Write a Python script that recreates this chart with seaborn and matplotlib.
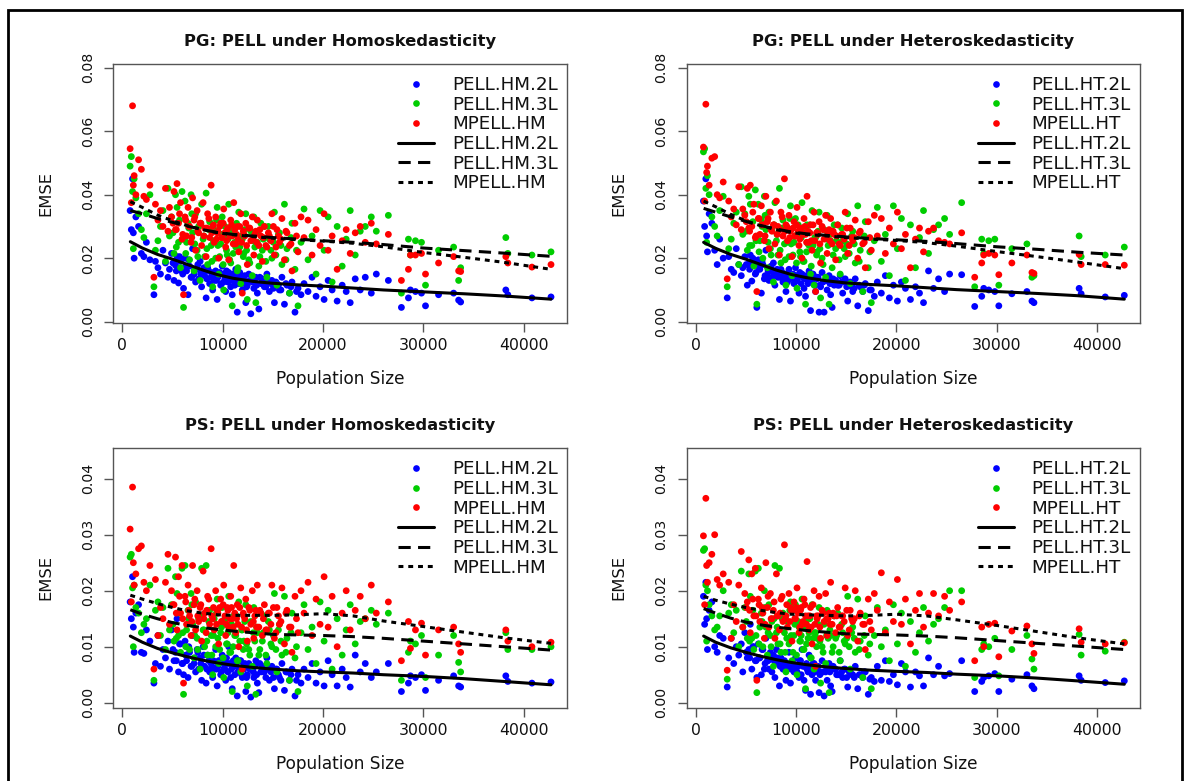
import numpy as np
import pandas as pd
import matplotlib
matplotlib.use("Agg")
import matplotlib.pyplot as plt
import seaborn as sns
from matplotlib.lines import Line2D
from matplotlib.patches import Rectangle

# EMSE values below are stored in units of 1e-4
SCALE = 1e-4

# Population size of each small area (shared by all estimators)
population = [
    780, 900, 1020, 1100, 1180, 1350, 1620, 1900, 2150, 2400, 2750, 3150, 3300,
    3550, 3800, 4050, 4300, 4550, 4700, 4900, 5150, 5300, 5450, 5600, 5800, 5950,
    6100, 6250, 6400, 6550, 6700, 6850, 7000, 7150, 7300, 7450, 7600, 7750, 7900, 8050, 8200, 8350, 8500, 8700, 8850, 9000,
    9150, 9300, 9450, 9600, 9800, 9950, 10100, 10300, 10450, 10600, 10800, 10950, 11100, 11300, 11450,
    11600, 11800, 11950, 12100, 12300, 12450, 12600, 12800, 12950, 13100, 13300, 13450, 13600, 13800, 13950,
    14150, 14400, 14650, 14900, 15150, 15400, 15650, 15900, 16150, 16400, 16650, 16900, 17200, 17500, 17800,
    18100, 18500, 18900, 19300, 19700, 20100, 20500, 20900, 21400, 21900, 22300, 22700, 23200, 23700, 24200, 24800, 25300,
    26500, 27800, 28500, 28700, 29200, 29800, 30200, 31500, 33000, 33500, 33700, 38200, 38400, 40800, 42700,
    5050, 5380, 5700, 6020, 6320, 6620, 6920, 7220, 7520, 7820, 8120, 8420, 8620, 8920, 9080, 9380,
    9520, 9700, 9880, 10050, 10220, 10380, 10520, 10700, 10880, 11050, 11200, 11380, 11520, 11700, 11880,
    12050, 12200, 12380, 12700, 13050,
    13200, 13380, 13700, 14050, 14300, 14550, 14800, 15050, 15300, 15550, 15800, 16300, 16800, 17350,
]

# ---- PG, homoskedastic ----
pg_hm_2l = [
    350, 290, 450, 280, 200, 330, 300, 215, 205, 250, 195, 85, 190,
    170, 150, 225, 185, 140, 165, 215, 130, 178, 205, 122, 190, 158,
    105, 200, 160, 85, 175, 140, 230, 150, 125, 165, 135, 190, 110, 155, 145, 75, 170, 120, 140, 100,
    130, 160, 70, 150, 115, 175, 125, 95, 140, 155, 110, 85, 135, 165, 30,
    120, 145, 100, 130, 60, 115, 150, 25, 125, 105, 140, 90, 40, 120, 135,
    110, 150, 95, 130, 60, 120, 100, 140, 55, 115, 90, 125, 30, 105, 85,
    120, 95, 140, 80, 110, 70, 130, 100, 65, 115, 95, 60, 135, 100, 140, 90, 150,
    130, 45, 75, 100, 95, 90, 50, 85, 90, 68, 62, 100, 85, 75, 78,
    185, 160, 205, 150, 175, 195, 140, 165, 180, 150, 170, 135, 160, 145, 155, 130,
    140, 155, 120, 150, 135, 160, 125, 145, 130, 150, 115, 140, 125, 155, 120,
    135, 145, 110, 130, 125,
    135, 115, 140, 125, 110, 130, 120, 105, 125, 115, 100, 120, 110, 95,
]
pg_hm_3l = [
    490, 520, 410, 230, 450, 390, 340, 290, 265, 340, 400, 110, 225,
    255, 300, 350, 190, 420, 270, 330, 215, 400, 360, 250, 170, 410,
    45, 380, 250, 310, 195, 400, 280, 160, 340, 225, 300, 130, 370, 260, 205, 405, 180, 315, 240, 110,
    290, 200, 360, 150, 245, 330, 100, 275, 210, 370, 185, 50, 300, 235, 160,
    345, 120, 260, 215, 340, 70, 195, 285, 145, 330, 60, 250, 175, 310, 225,
    300, 140, 260, 200, 345, 115, 280, 180, 370, 230, 90, 310, 165, 50, 250,
    355, 195, 270, 150, 350, 225, 330, 125, 300, 175, 260, 350, 210, 285, 300, 330, 285,
    335, 90, 260, 210, 255, 250, 115, 225, 235, 130, 170, 265, 215, 210, 220,
    280, 235, 320, 260, 215, 295, 340, 245, 205, 310, 270, 230, 290, 190, 255, 320,
    240, 205, 275, 180, 300, 225, 260, 195, 285, 215, 250, 310, 170, 235, 270,
    205, 290, 225, 185, 255,
    235, 280, 205, 260, 190, 300, 225, 250, 210, 275, 240, 195, 265, 225,
]
pg_mpell_hm = [
    545, 375, 680, 430, 460, 400, 510, 480, 395, 385, 430, 140, 370,
    320, 350, 300, 420, 285, 360, 330, 410, 290, 435, 310, 375, 260,
    85, 330, 270, 360, 300, 250, 390, 320, 225, 350, 280, 310, 240, 375, 295, 205, 340, 265, 430, 300,
    250, 330, 280, 200, 310, 265, 355, 235, 290, 195, 320, 270, 375, 245, 300,
    220, 340, 90, 275, 310, 180, 295, 255, 330, 210, 285, 320, 240, 270, 190,
    300, 235, 270, 340, 210, 290, 250, 325, 195, 280, 240, 160, 310, 220, 330,
    265, 320, 210, 290, 240, 340, 225, 270, 165, 255, 290, 215, 280, 300, 250, 310, 245,
    275, 130, 165, 210, 210, 215, 150, 185, 205, 160, 158, 205, 185, 172, 180,
    310, 290, 340, 275, 320, 300, 265, 330, 285, 310, 270, 295, 325, 280, 305, 260,
    285, 300, 265, 310, 280, 255, 295, 270, 305, 245, 290, 275, 260, 300, 250,
    285, 270, 240, 295, 265,
    275, 250, 290, 265, 240, 280, 255, 300, 235, 270, 260, 285, 245, 270,
]

# ---- PG, heteroskedastic ----
pg_ht_2l = [
    380, 300, 450, 270, 220, 340, 310, 225, 180, 260, 200, 75, 205,
    165, 155, 230, 180, 145, 170, 205, 115, 182, 210, 128, 185, 150,
    45, 195, 165, 90, 180, 135, 225, 145, 130, 160, 140, 185, 115, 150, 140, 70, 165, 125, 135, 95,
    125, 165, 65, 145, 120, 170, 130, 90, 145, 150, 105, 80, 140, 160, 35,
    125, 140, 95, 135, 30, 110, 155, 30, 130, 100, 145, 85, 45, 115, 130,
    115, 145, 90, 135, 65, 125, 95, 135, 50, 110, 95, 120, 35, 100, 80,
    125, 90, 145, 75, 115, 65, 125, 105, 70, 110, 90, 60, 160, 105, 135, 95, 150,
    148, 48, 80, 105, 100, 95, 50, 88, 95, 65, 60, 105, 88, 78, 83,
    180, 165, 200, 155, 170, 190, 145, 160, 175, 155, 165, 140, 155, 150, 150, 135,
    145, 150, 125, 145, 140, 155, 120, 140, 135, 145, 120, 135, 130, 150, 115,
    140, 140, 115, 125, 130,
    130, 120, 135, 120, 115, 125, 125, 110, 120, 110, 105, 115, 115, 100,
]
pg_ht_3l = [
    535, 545, 420, 250, 460, 400, 330, 300, 270, 350, 395, 110, 230,
    260, 310, 345, 180, 425, 275, 340, 225, 395, 370, 240, 175, 415,
    55, 370, 255, 320, 200, 395, 290, 170, 345, 230, 290, 125, 375, 255, 210, 420, 185, 320, 245, 115,
    295, 205, 365, 145, 250, 325, 105, 270, 205, 375, 190, 55, 305, 240, 150,
    350, 115, 265, 220, 345, 75, 200, 290, 140, 335, 55, 255, 170, 305, 230,
    305, 150, 255, 205, 340, 120, 285, 185, 365, 225, 95, 315, 170, 60, 255,
    360, 190, 275, 145, 365, 230, 325, 130, 305, 170, 265, 350, 215, 290, 305, 325, 275,
    375, 110, 260, 215, 255, 260, 115, 230, 245, 140, 145, 270, 205, 210, 235,
    285, 240, 315, 255, 220, 300, 335, 250, 210, 305, 275, 225, 295, 195, 250, 325,
    245, 210, 270, 185, 305, 220, 265, 190, 280, 220, 245, 305, 175, 240, 265,
    210, 285, 230, 180, 260,
    240, 275, 210, 255, 195, 295, 230, 245, 215, 270, 245, 190, 270, 220,
]
pg_mpell_ht = [
    550, 380, 685, 470, 490, 430, 515, 520, 400, 390, 440, 135, 380,
    330, 355, 305, 425, 290, 355, 335, 420, 295, 430, 300, 370, 265,
    95, 325, 275, 365, 305, 255, 395, 315, 230, 345, 285, 305, 245, 380, 300, 210, 345, 270, 450, 305,
    255, 335, 285, 205, 315, 270, 360, 240, 295, 200, 325, 275, 395, 250, 305,
    225, 345, 95, 280, 315, 185, 300, 260, 335, 215, 290, 325, 245, 275, 195,
    305, 240, 275, 345, 215, 295, 255, 320, 200, 285, 245, 170, 315, 225, 335,
    270, 325, 215, 295, 245, 345, 230, 275, 170, 260, 295, 220, 285, 295, 255, 250, 245,
    280, 140, 185, 210, 215, 210, 148, 185, 210, 155, 152, 212, 180, 180, 178,
    315, 285, 345, 270, 325, 305, 270, 325, 290, 305, 275, 290, 330, 285, 300, 265,
    290, 295, 270, 305, 285, 260, 290, 275, 300, 250, 285, 280, 255, 305, 255,
    280, 275, 245, 290, 270,
    280, 255, 285, 270, 245, 275, 260, 295, 240, 265, 265, 280, 250, 265,
]

# ---- PS, homoskedastic ----
ps_hm_2l = [
    180, 150, 225, 135, 90, 160, 175, 90, 88, 130, 110, 35, 70,
    120, 65, 95, 80, 110, 60, 130, 75, 90, 150, 55, 105, 70,
    50, 110, 75, 45, 90, 65, 120, 70, 55, 95, 60, 80, 40, 100, 65, 35, 85, 55, 70, 45,
    60, 95, 30, 75, 50, 85, 60, 40, 70, 100, 45, 25, 65, 80, 12,
    55, 75, 45, 60, 20, 50, 70, 10, 60, 45, 75, 35, 18, 55, 65,
    55, 80, 40, 65, 25, 60, 45, 70, 22, 55, 40, 60, 12, 50, 35,
    60, 45, 70, 35, 55, 30, 75, 50, 30, 60, 45, 28, 85, 55, 70, 45, 55,
    70, 20, 35, 48, 45, 50, 22, 40, 48, 30, 28, 48, 38, 35, 37,
    95, 75, 105, 70, 85, 100, 65, 80, 90, 70, 85, 60, 75, 65, 75, 60,
    65, 75, 55, 70, 60, 80, 55, 70, 60, 75, 50, 65, 55, 75, 50,
    65, 70, 45, 60, 55,
    65, 50, 70, 55, 45, 60, 55, 45, 60, 50, 40, 55, 50, 40,
]
ps_hm_3l = [
    260, 265, 205, 100, 210, 170, 160, 125, 140, 150, 210, 40, 165,
    180, 120, 170, 95, 240, 130, 175, 110, 225, 195, 120, 90, 240,
    15, 245, 130, 165, 95, 195, 140, 80, 180, 115, 150, 60, 240, 130, 100, 245, 85, 165, 120, 50,
    150, 100, 185, 70, 125, 170, 45, 140, 105, 190, 90, 20, 155, 120, 75,
    180, 55, 130, 110, 175, 30, 95, 145, 65, 170, 15, 125, 85, 160, 110,
    155, 70, 130, 100, 195, 55, 140, 85, 190, 115, 40, 160, 80, 20, 125,
    175, 95, 135, 70, 180, 110, 165, 60, 150, 85, 130, 175, 105, 145, 150, 165, 140,
    160, 40, 90, 110, 105, 120, 45, 85, 120, 72, 55, 125, 95, 95, 100,
    140, 115, 160, 125, 100, 150, 175, 120, 95, 155, 130, 110, 145, 85, 120, 160,
    115, 95, 135, 80, 150, 105, 125, 90, 140, 100, 120, 155, 75, 110, 130,
    95, 145, 105, 85, 125,
    110, 135, 95, 125, 85, 145, 105, 120, 95, 130, 110, 90, 125, 100,
]
ps_mpell_hm = [
    310, 180, 385, 250, 210, 230, 275, 280, 215, 200, 245, 60, 220,
    120, 170, 150, 215, 265, 140, 200, 175, 260, 130, 225, 160, 245,
    35, 190, 140, 210, 155, 120, 245, 175, 130, 200, 145, 170, 110, 235, 160, 125, 190, 140, 275, 150,
    130, 200, 165, 105, 185, 145, 210, 120, 170, 135, 190, 150, 245, 125, 175,
    100, 205, 60, 155, 185, 110, 170, 140, 200, 115, 165, 210, 135, 160, 120,
    175, 130, 160, 210, 115, 170, 140, 205, 105, 165, 135, 90, 190, 125, 200,
    160, 215, 120, 185, 140, 225, 135, 190, 100, 160, 200, 130, 165, 190, 150, 210, 160,
    180, 75, 145, 97, 130, 142, 85, 130, 135, 105, 90, 130, 110, 100, 108,
    175, 160, 190, 150, 180, 165, 145, 185, 155, 175, 150, 165, 185, 155, 170, 140,
    160, 170, 145, 175, 155, 140, 165, 150, 170, 135, 160, 150, 140, 170, 135,
    160, 150, 130, 165, 145,
    155, 135, 165, 150, 130, 160, 140, 170, 125, 155, 145, 160, 135, 150,
]

# ---- PS, heteroskedastic ----
ps_ht_2l = [
    190, 140, 215, 150, 95, 165, 180, 100, 90, 120, 115, 28, 80,
    115, 70, 100, 85, 105, 55, 125, 80, 95, 140, 60, 100, 75,
    45, 105, 80, 50, 95, 60, 115, 75, 60, 90, 55, 85, 45, 95, 70, 30, 80, 60, 75, 40,
    65, 90, 35, 70, 55, 80, 55, 45, 75, 95, 40, 22, 60, 85, 15,
    50, 70, 40, 65, 18, 55, 75, 12, 55, 40, 70, 30, 20, 60, 60,
    50, 75, 45, 60, 28, 55, 50, 65, 25, 50, 45, 55, 15, 45, 38,
    65, 40, 75, 38, 50, 32, 70, 55, 28, 55, 48, 30, 80, 50, 65, 48, 52,
    75, 20, 38, 45, 48, 52, 20, 42, 50, 30, 25, 48, 40, 36, 39,
    90, 80, 100, 75, 80, 95, 70, 75, 85, 75, 80, 65, 70, 70, 70, 65,
    60, 70, 60, 65, 65, 75, 50, 65, 65, 70, 55, 60, 60, 70, 55,
    60, 65, 50, 55, 60,
    60, 55, 65, 50, 50, 55, 60, 45, 55, 50, 45, 50, 55, 42,
]
ps_ht_3l = [
    272, 275, 210, 110, 200, 175, 155, 130, 135, 155, 200, 42, 160,
    175, 125, 165, 100, 235, 135, 170, 115, 230, 190, 115, 95, 235,
    18, 240, 135, 160, 100, 200, 135, 85, 175, 120, 145, 65, 245, 125, 105, 240, 90, 160, 125, 55,
    145, 105, 180, 75, 120, 175, 50, 135, 110, 185, 95, 25, 150, 125, 80,
    175, 60, 125, 115, 170, 35, 100, 140, 70, 165, 18, 120, 90, 155, 115,
    160, 75, 125, 105, 190, 60, 135, 90, 185, 110, 45, 155, 85, 25, 120,
    170, 100, 130, 75, 175, 105, 160, 65, 145, 90, 125, 170, 110, 140, 150, 170, 200,
    200, 45, 95, 105, 100, 115, 48, 95, 120, 78, 60, 122, 85, 92, 108,
    145, 110, 165, 120, 105, 145, 170, 125, 100, 150, 135, 105, 150, 90, 115, 165,
    120, 90, 140, 85, 145, 110, 120, 95, 135, 105, 115, 150, 80, 115, 125,
    100, 140, 110, 90, 120,
    115, 130, 100, 120, 90, 140, 110, 115, 100, 125, 115, 95, 120, 105,
]
ps_mpell_ht = [
    298, 175, 365, 245, 215, 250, 265, 300, 220, 210, 230, 58, 215,
    115, 175, 145, 210, 270, 135, 195, 180, 255, 125, 230, 155, 240,
    40, 185, 145, 205, 160, 115, 250, 170, 135, 195, 150, 165, 115, 230, 155, 130, 185, 145, 282, 155,
    135, 195, 170, 110, 180, 150, 205, 125, 165, 140, 185, 155, 252, 130, 170,
    105, 200, 65, 150, 190, 115, 165, 145, 195, 120, 160, 215, 140, 155, 125,
    170, 135, 155, 205, 120, 165, 145, 200, 110, 160, 140, 95, 185, 130, 195,
    165, 232, 125, 180, 145, 220, 140, 185, 105, 165, 195, 135, 160, 195, 155, 190, 165,
    180, 75, 135, 100, 140, 142, 82, 128, 137, 105, 88, 132, 108, 105, 107,
    170, 165, 185, 155, 175, 170, 140, 190, 150, 180, 155, 160, 190, 150, 175, 145,
    165, 165, 150, 170, 160, 135, 170, 145, 175, 140, 155, 155, 135, 175, 140,
    155, 155, 135, 160, 150,
    150, 140, 160, 155, 135, 155, 145, 165, 130, 150, 150, 155, 140, 145,
]

# Smoothed EMSE trends, evaluated at these population sizes
trend_pop = [800, 2000, 3500, 5000, 6500, 8000, 9500, 11000, 13000, 15000,
             17500, 20000, 23000, 26000, 30000, 34000, 38000, 42700]
pg_hm_2l_trend = [252, 232, 212, 197, 180, 163, 148, 137, 127, 121, 116, 112, 106, 100, 94, 88, 81, 71]
pg_hm_3l_trend = [350, 340, 325, 313, 301, 290, 281, 275, 270, 265, 260, 255, 250, 243, 232, 224, 216, 206]
pg_mpell_hm_trend = [378, 360, 336, 318, 302, 290, 280, 274, 268, 263, 258, 254, 247, 236, 218, 203, 187, 165]
pg_ht_2l_trend = [250, 231, 212, 197, 180, 163, 149, 139, 129, 122, 117, 113, 107, 101, 95, 89, 82, 71]
pg_ht_3l_trend = [357, 345, 330, 316, 303, 292, 283, 277, 272, 267, 262, 258, 253, 246, 236, 228, 219, 210]
pg_mpell_ht_trend = [380, 362, 338, 318, 302, 290, 281, 275, 270, 265, 260, 256, 249, 238, 221, 205, 188, 167]
ps_hm_2l_trend = [119, 108, 97, 89, 82, 76, 71, 67, 63, 60, 57, 55, 53, 50, 47, 43, 38, 32]
ps_hm_3l_trend = [166, 158, 150, 143, 138, 134, 131, 128, 125, 122, 121, 120, 118, 115, 110, 105, 100, 94]
ps_mpell_hm_trend = [192, 185, 177, 170, 164, 160, 157, 156, 156, 156, 157, 159, 155, 146, 136, 126, 116, 106]
ps_ht_2l_trend = [119, 108, 98, 90, 83, 77, 72, 68, 64, 61, 58, 56, 54, 51, 48, 44, 39, 33]
ps_ht_3l_trend = [168, 160, 151, 144, 139, 135, 132, 129, 126, 123, 122, 121, 119, 116, 111, 106, 101, 95]
ps_mpell_ht_trend = [190, 183, 176, 170, 165, 161, 158, 157, 156, 155, 156, 158, 155, 148, 138, 127, 116, 105]

hm_labels = ["PELL.HM.2L", "PELL.HM.3L", "MPELL.HM"]
ht_labels = ["PELL.HT.2L", "PELL.HT.3L", "MPELL.HT"]
pg_yticks = [0.00, 0.02, 0.04, 0.06, 0.08]
ps_yticks = [0.00, 0.01, 0.02, 0.03, 0.04]
x_ticks = [0, 10000, 20000, 30000, 40000]

point_colors = ["#0000FF", "#00CD00", "#FF0000"]
trend_dashes = ["", (4.0, 2.4), (1.6, 1.6)]

sns.set_style("white")
plt.rcParams["font.family"] = ["DejaVu Sans"]

W, H = 1184, 781
fig = plt.figure(figsize=(W / 100, H / 100), dpi=100)
fig.patch.set_facecolor("white")


def px_axes(left, top, right, bottom):
    return fig.add_axes([left / W, 1 - bottom / H, (right - left) / W, (bottom - top) / H])


panels = [
    dict(box=(113.3, 64, 566.7, 323), title="PG: PELL under Homoskedasticity", labels=hm_labels,
         points=(pg_hm_2l, pg_hm_3l, pg_mpell_hm),
         trends=(pg_hm_2l_trend, pg_hm_3l_trend, pg_mpell_hm_trend),
         ylim=(-0.00041, 0.08117), yticks=pg_yticks),
    dict(box=(686.6, 64, 1140, 323), title="PG: PELL under Heteroskedasticity", labels=ht_labels,
         points=(pg_ht_2l, pg_ht_3l, pg_mpell_ht),
         trends=(pg_ht_2l_trend, pg_ht_3l_trend, pg_mpell_ht_trend),
         ylim=(-0.00041, 0.08117), yticks=pg_yticks),
    dict(box=(113.3, 448.3, 566.7, 707.7), title="PS: PELL under Homoskedasticity", labels=hm_labels,
         points=(ps_hm_2l, ps_hm_3l, ps_mpell_hm),
         trends=(ps_hm_2l_trend, ps_hm_3l_trend, ps_mpell_hm_trend),
         ylim=(-0.00089, 0.04543), yticks=ps_yticks),
    dict(box=(686.6, 448.3, 1140, 707.7), title="PS: PELL under Heteroskedasticity", labels=ht_labels,
         points=(ps_ht_2l, ps_ht_3l, ps_mpell_ht),
         trends=(ps_ht_2l_trend, ps_ht_3l_trend, ps_mpell_ht_trend),
         ylim=(-0.00089, 0.04543), yticks=ps_yticks),
]

axis_gray = "#555555"
text_col = "#111111"

for p in panels:
    left, top, right, bottom = p["box"]
    ax = px_axes(left, top, right, bottom)
    labels = p["labels"]
    height_px = bottom - top

    pts = pd.concat(
        [pd.DataFrame({"pop": population, "emse": np.asarray(v) * SCALE, "method": lab})
         for v, lab in zip(p["points"], labels)],
        ignore_index=True,
    )
    sns.scatterplot(data=pts, x="pop", y="emse", hue="method", hue_order=labels,
                    palette=dict(zip(labels, point_colors)), s=24, linewidth=0,
                    edgecolor="none", legend=False, ax=ax, zorder=2)

    trends = pd.concat(
        [pd.DataFrame({"pop": trend_pop, "emse": np.asarray(v) * SCALE, "method": lab})
         for v, lab in zip(p["trends"], labels)],
        ignore_index=True,
    )
    sns.lineplot(data=trends, x="pop", y="emse", style="method", style_order=labels,
                 dashes=dict(zip(labels, trend_dashes)), color="black", linewidth=2.2,
                 estimator=None, legend=False, ax=ax, zorder=3)

    ax.set_xlim(-896, 44263)
    ax.set_ylim(*p["ylim"])
    ax.set_xticks(x_ticks)
    ax.set_xticklabels([str(t) for t in x_ticks], fontsize=11.3, color=text_col)
    ax.set_yticks(p["yticks"])
    ax.set_yticklabels([f"{t:.2f}" for t in p["yticks"]], fontsize=10.2, color=text_col,
                       rotation=90, va="center")
    ax.tick_params(axis="both", direction="out", length=6.6, width=1.0, color=axis_gray,
                   bottom=True, left=True, top=False, right=False)
    ax.tick_params(axis="x", pad=4.2)
    ax.tick_params(axis="y", pad=6.8)
    for sp in ax.spines.values():
        sp.set_color(axis_gray)
        sp.set_linewidth(1.0)
        sp.set_visible(True)

    ax.set_title(p["title"], fontsize=11.8, fontweight="bold", color=text_col,
                 y=(bottom - (top - 18)) / height_px, pad=0, va="baseline")
    ax.set_xlabel("Population Size", fontsize=12.2, color=text_col)
    ax.xaxis.set_label_coords(0.5, (bottom - (bottom + 61)) / height_px)
    ax.xaxis.label.set_va("baseline")
    ax.set_ylabel("EMSE", fontsize=11.8, color=text_col)
    ax.yaxis.set_label_coords(-67.5 / (right - left), 0.5)
    ax.yaxis.label.set_va("center")

    handles = [Line2D([], [], ls="none", marker="o", ms=4.8, mfc=c, mec="none")
               for c in point_colors]
    handles += [Line2D([], [], color="black", lw=2.2, ls="-"),
                Line2D([], [], color="black", lw=2.2, dashes=trend_dashes[1]),
                Line2D([], [], color="black", lw=2.2, dashes=trend_dashes[2])]
    leg = ax.legend(handles, labels + labels, loc="upper right",
                    bbox_to_anchor=(1, 1 - 3.0 / height_px),
                    frameon=False, fontsize=13.2, handlelength=1.96, handletextpad=0.97,
                    labelspacing=0.09, borderaxespad=0.0, borderpad=0.5)
    for t in leg.get_texts():
        t.set_color(text_col)

# Outer frame around the whole figure
fig.add_artist(Rectangle((8 / W, -0.05), (1181.5 - 8) / W, 1.05 - 10 / H,
                         transform=fig.transFigure, fill=False, edgecolor="black",
                         linewidth=2.0, clip_on=False))

fig.savefig("out.png", dpi=100, facecolor="white")
